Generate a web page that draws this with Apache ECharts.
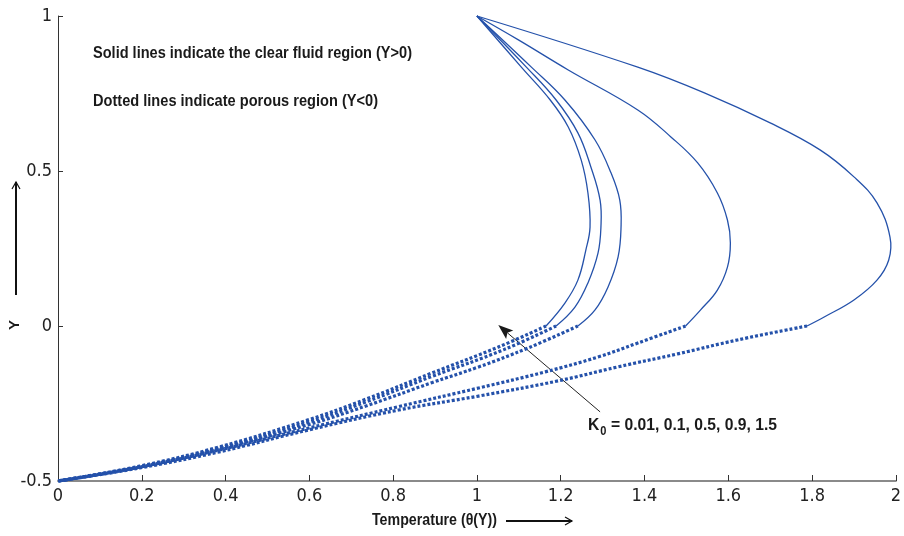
<!DOCTYPE html>
<html>
<head>
<meta charset="utf-8">
<script src="https://cdn.jsdelivr.net/npm/echarts@6/dist/echarts.min.js"></script>
<style>html,body{margin:0;padding:0;background:#fff}#c{width:904px;height:536px}</style>
</head>
<body>
<div id="c"></div>
<script>
// K0 values
const k0Values = ['0.01', '0.1', '0.5', '0.9', '1.5'];
const xTicks = [0, 0.2, 0.4, 0.6, 0.8, 1, 1.2, 1.4, 1.6, 1.8, 2];
const yTicks = [-0.5, 0, 0.5, 1];

// Clear fluid region (Y > 0): [theta, Y]
const clear1 = [[1.0,1.0],[1.106,0.835],[1.175,0.729],[1.218,0.642],[1.249,0.535],[1.265,0.429],[1.270,0.319],[1.260,0.245],[1.241,0.148],[1.210,0.074],[1.165,0.0]];
const clear2 = [[1.0,1.0],[1.118,0.835],[1.189,0.729],[1.241,0.623],[1.272,0.513],[1.294,0.406],[1.296,0.319],[1.289,0.235],[1.265,0.139],[1.234,0.061],[1.189,0.0]];
const clear3 = [[1.0,1.0],[1.130,0.835],[1.210,0.729],[1.282,0.600],[1.320,0.494],[1.341,0.406],[1.344,0.319],[1.337,0.223],[1.313,0.126],[1.282,0.052],[1.241,0.0]];
const clear4 = [[1.0,1.0],[1.099,0.923],[1.218,0.826],[1.384,0.697],[1.463,0.610],[1.527,0.526],[1.574,0.429],[1.598,0.342],[1.605,0.268],[1.598,0.190],[1.574,0.116],[1.534,0.052],[1.498,0.0]];
const clear5 = [[1.0,1.0],[1.384,0.835],[1.543,0.752],[1.700,0.655],[1.819,0.568],[1.900,0.481],[1.955,0.397],[1.986,0.287],[1.983,0.213],[1.955,0.148],[1.900,0.084],[1.829,0.029],[1.788,0.0]];

// Porous region (Y < 0): [theta, Y]
const porous1 = [[1.165,0.0],[1.051,-0.068],[0.892,-0.152],[0.735,-0.236],[0.599,-0.302],[0.385,-0.390],[0.195,-0.452],[0,-0.5]];
const porous2 = [[1.189,0.0],[1.063,-0.077],[0.892,-0.163],[0.735,-0.245],[0.599,-0.310],[0.385,-0.394],[0.195,-0.455],[0,-0.5]];
const porous3 = [[1.241,0.0],[1.122,-0.071],[1.004,-0.132],[0.892,-0.183],[0.735,-0.258],[0.599,-0.318],[0.385,-0.397],[0.195,-0.455],[0,-0.5]];
const porous4 = [[1.498,0.0],[1.384,-0.055],[1.289,-0.100],[1.163,-0.148],[1.004,-0.200],[0.813,-0.260],[0.599,-0.329],[0.385,-0.400],[0.195,-0.455],[0,-0.5]];
const porous5 = [[1.788,0.0],[1.622,-0.045],[1.479,-0.090],[1.336,-0.132],[1.194,-0.177],[1.004,-0.226],[0.813,-0.271],[0.599,-0.335],[0.385,-0.406],[0.195,-0.458],[0,-0.5]];

const clearSets = [clear1, clear2, clear3, clear4, clear5];
const porousSets = [porous1, porous2, porous3, porous4, porous5];

const BLUE = '#2451aa';
const TICKFONT = "'DejaVu Sans Condensed','Liberation Sans Narrow',sans-serif";
const BOLDFONT = "'Liberation Sans',Arial,sans-serif";
const SMOOTH = 0.4;

// Smooth curve through the data points, positioned through the axes (api.coord)
function curveSeries(name, data, width, dash) {
  return {
    type: 'custom', name: name, coordinateSystem: 'cartesian2d', data: data, silent: true,
    encode: { x: 0, y: 1 }, clip: false,
    renderItem: function (params, api) {
      if (params.dataIndex !== 0) return null;
      const p = data.map(d => api.coord(d));
      const n = p.length;
      let path = 'M' + p[0][0] + ' ' + p[0][1];
      const cps = p.map((pt, i) => {
        const prev = p[Math.max(i - 1, 0)], next = p[Math.min(i + 1, n - 1)];
        const vx = next[0] - prev[0], vy = next[1] - prev[1];
        const d0 = Math.hypot(pt[0] - prev[0], pt[1] - prev[1]);
        const d1 = Math.hypot(next[0] - pt[0], next[1] - pt[1]);
        const r = (d0 + d1) > 0 ? d1 / (d0 + d1) : 0.5;
        return {
          inX: pt[0] - vx * SMOOTH * (1 - r), inY: pt[1] - vy * SMOOTH * (1 - r),
          outX: pt[0] + vx * SMOOTH * r, outY: pt[1] + vy * SMOOTH * r
        };
      });
      for (let i = 0; i < n - 1; i++) {
        const a = (i === 0) ? { outX: p[0][0], outY: p[0][1] } : cps[i];
        const b = (i === n - 2) ? { inX: p[n - 1][0], inY: p[n - 1][1] } : cps[i + 1];
        path += ' C' + a.outX + ' ' + a.outY + ' ' + b.inX + ' ' + b.inY + ' ' + p[i + 1][0] + ' ' + p[i + 1][1];
      }
      return {
        type: 'path', shape: { pathData: path },
        style: { fill: 'none', stroke: BLUE, lineWidth: width, lineDash: dash || null, lineCap: 'butt' }
      };
    }
  };
}

const series = [];
clearSets.forEach((d, i) => series.push(curveSeries('K0=' + k0Values[i] + ' clear', d, 1.3, null)));
porousSets.forEach((d, i) => series.push(curveSeries('K0=' + k0Values[i] + ' porous', d, 3.2, [3, 2])));

const chart = echarts.init(document.getElementById('c'), null, { renderer: 'canvas' });
chart.setOption({
  animation: false,
  backgroundColor: '#fff',
  grid: { left: 58, top: 16, right: 5, bottom: 55, containLabel: false },
  xAxis: {
    type: 'value', min: 0, max: 2, interval: 0.2,
    axisLine: { show: true, onZero: false, lineStyle: { color: '#8a8a8a', width: 2 } },
    axisTick: { show: true, inside: true, length: 6, lineStyle: { color: '#333', width: 1 } },
    axisLabel: { color: '#222', fontSize: 18, fontFamily: TICKFONT, margin: 6,
      formatter: v => String(Math.round(v * 10) / 10) },
    splitLine: { show: false }
  },
  yAxis: {
    type: 'value', min: -0.5, max: 1, interval: 0.5,
    axisLine: { show: true, onZero: false, lineStyle: { color: '#333', width: 1 } },
    axisTick: { show: true, inside: true, length: 5, lineStyle: { color: '#333', width: 1 } },
    axisLabel: { color: '#222', fontSize: 18, fontFamily: TICKFONT, margin: 6,
      formatter: v => String(v) },
    splitLine: { show: false }
  },
  series: series
});

function px(x, y) { return chart.convertToPixel({ gridIndex: 0 }, [x, y]); }
const head = px(1.051, 0.003);
const tail = px(1.294, -0.277);
const ang = Math.atan2(head[1] - tail[1], head[0] - tail[0]);
const hl = 15, hw = 5.5;
const bx = head[0] - hl * Math.cos(ang), by = head[1] - hl * Math.sin(ang);
const nx = -Math.sin(ang), ny = Math.cos(ang);

const ctx = document.createElement('canvas').getContext('2d');
function tw(text, size) { ctx.font = 'bold ' + size + 'px ' + BOLDFONT; return ctx.measureText(text).width; }
function bold(text, size, extra) {
  return Object.assign({ text: text, fontFamily: BOLDFONT, fontWeight: 'bold', fontSize: size, fill: '#1a1a1a', verticalAlign: 'middle' }, extra || {});
}
function fitText(text, size, x, y, targetW) {
  return { type: 'text', x: x, y: y, scaleX: targetW / tw(text, size), style: bold(text, size) };
}

const FS = 17;
const kW = tw('K', FS), zW = tw('0', 12), eqT = '= 0.01, 0.1, 0.5, 0.9, 1.5';
const kTotal = kW + 1 + zW + 5 + tw(eqT, FS);

chart.setOption({
  graphic: [
    fitText('Solid lines indicate the clear fluid region (Y>0)', FS, 93, 53, 319),
    fitText('Dotted lines indicate porous region (Y<0)', FS, 93, 101, 285),
    { type: 'group', x: 588, y: 425, scaleX: 189 / kTotal, children: [
      { type: 'text', x: 0, y: 0, style: bold('K', FS) },
      { type: 'text', x: kW + 1, y: 7, style: bold('0', 12) },
      { type: 'text', x: kW + 1 + zW + 5, y: 0, style: bold(eqT, FS) }
    ] },
    { type: 'line', shape: { x1: tail[0], y1: tail[1], x2: bx + 3 * Math.cos(ang), y2: by + 3 * Math.sin(ang) }, style: { stroke: '#222', lineWidth: 1 } },
    { type: 'polygon', shape: { points: [[head[0], head[1]], [bx + nx * hw, by + ny * hw], [bx + 3 * Math.cos(ang), by + 3 * Math.sin(ang)], [bx - nx * hw, by - ny * hw]] }, style: { fill: '#1a1a1a' } },
    fitText('Temperature (θ(Y))', 16, 372, 521, 125),
    { type: 'line', shape: { x1: 506, y1: 521, x2: 572, y2: 521 }, style: { stroke: '#111', lineWidth: 2 } },
    { type: 'polyline', shape: { points: [[565, 517], [572, 521], [565, 525]] }, style: { stroke: '#111', lineWidth: 1.2, fill: null } },
    { type: 'text', x: 15, y: 325, rotation: Math.PI / 2, style: bold('Y', 15, { align: 'center' }) },
    { type: 'line', shape: { x1: 16, y1: 295, x2: 16, y2: 182 }, style: { stroke: '#111', lineWidth: 2 } },
    { type: 'polyline', shape: { points: [[12, 189], [16, 182], [20, 189]] }, style: { stroke: '#111', lineWidth: 1.2, fill: null } }
  ]
});
</script>
</body>
</html>
